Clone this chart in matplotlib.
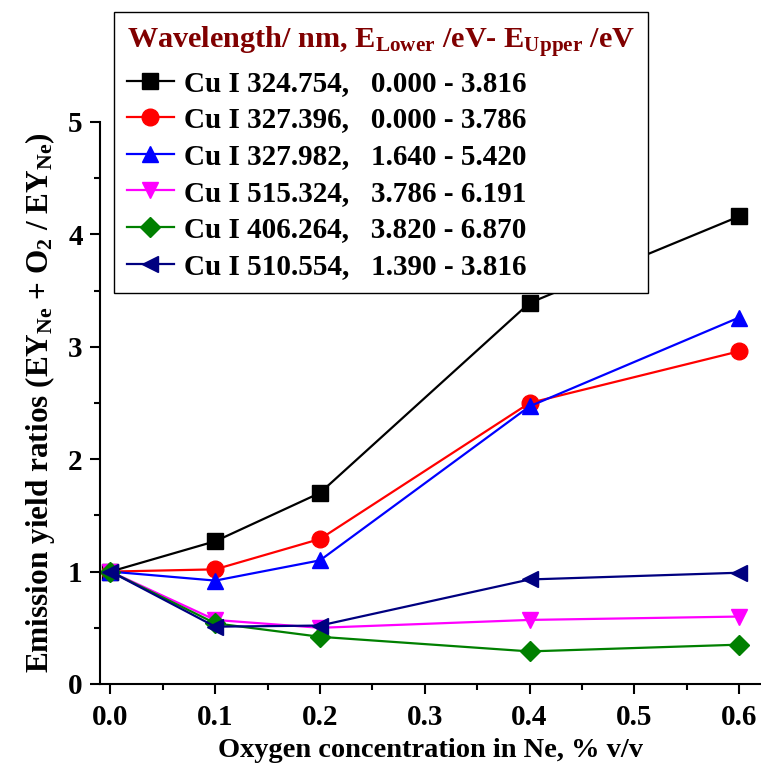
import matplotlib
matplotlib.use("Agg")
import matplotlib.pyplot as plt
from matplotlib.ticker import MultipleLocator

plt.rcParams["font.family"] = ["Liberation Serif", "DejaVu Serif"]
plt.rcParams["font.weight"] = "bold"
plt.rcParams["mathtext.fontset"] = "custom"
plt.rcParams["mathtext.rm"] = "Liberation Serif:bold"
plt.rcParams["mathtext.bf"] = "Liberation Serif:bold"
plt.rcParams["mathtext.it"] = "Liberation Serif:bold:italic"

# data
oxygen = [0.0, 0.1, 0.2, 0.4, 0.6]
cu_324 = [1.00, 1.27, 1.70, 3.39, 4.16]
cu_327_396 = [1.00, 1.02, 1.29, 2.50, 2.96]
cu_327_982 = [1.00, 0.92, 1.10, 2.47, 3.26]
cu_515 = [1.00, 0.57, 0.50, 0.57, 0.60]
cu_406 = [1.00, 0.54, 0.42, 0.29, 0.35]
cu_510 = [1.00, 0.51, 0.52, 0.93, 0.99]

labels = [
    "Cu I 324.754,   0.000 - 3.816",
    "Cu I 327.396,   0.000 - 3.786",
    "Cu I 327.982,   1.640 - 5.420",
    "Cu I 515.324,   3.786 - 6.191",
    "Cu I 406.264,   3.820 - 6.870",
    "Cu I 510.554,   1.390 - 3.816",
]
series = [cu_324, cu_327_396, cu_327_982, cu_515, cu_406, cu_510]
colors = ["black", "red", "blue", "magenta", "green", "navy"]
markers = ["s", "o", "^", "v", "D", "<"]
msizes = [11, 12, 12, 12, 10, 12]

fig = plt.figure(figsize=(7.61, 7.67), dpi=100)
ax = fig.add_axes([100 / 761, 1 - 684 / 767, 660 / 761, (684 - 122) / 767])

for y, lab, c, m, ms in zip(series, labels, colors, markers, msizes):
    ax.plot(oxygen, y, color=c, marker=m, markersize=ms, linewidth=1.6,
            label=lab, clip_on=False)

ax.set_xlim(-0.01, 0.62)
ax.set_ylim(0, 5)
ax.xaxis.set_major_locator(MultipleLocator(0.1))
ax.xaxis.set_minor_locator(MultipleLocator(0.05))
ax.yaxis.set_major_locator(MultipleLocator(1))
ax.yaxis.set_minor_locator(MultipleLocator(0.5))
ax.xaxis.set_major_formatter(plt.FormatStrFormatter("%.1f"))

for side in ["top", "right"]:
    ax.spines[side].set_visible(False)
for side in ["left", "bottom"]:
    ax.spines[side].set_linewidth(1.5)

ax.tick_params(which="major", direction="out", length=7.5, width=1.5,
               labelsize=21)
ax.tick_params(axis="x", which="major", pad=7)
ax.tick_params(axis="y", which="major", pad=5)
ax.tick_params(which="minor", direction="out", length=4.5, width=1.5)
for t in ax.get_xticklabels() + ax.get_yticklabels():
    t.set_fontweight("bold")

ax.set_xlabel("Oxygen concentration in Ne, % v/v", fontsize=20.5,
              fontweight="bold", labelpad=5)
ax.set_ylabel(r"Emission yield ratios (EY$_{\mathrm{Ne}}$ + O$_{2}$ / EY$_{\mathrm{Ne}}$)",
              fontsize=22.5, fontweight="bold", labelpad=8)

leg = ax.legend(loc="upper left", bbox_to_anchor=(114 / 761, 1 - 12 / 767),
                bbox_transform=fig.transFigure, borderaxespad=0,
                prop={"weight": "bold", "size": 21},
                title=r"Wavelength/ nm, E$_{\mathrm{Lower}}$ /eV- E$_{\mathrm{Upper}}$ /eV",
                title_fontproperties={"weight": "bold", "size": 21.8},
                alignment="left", handlelength=1.6, handletextpad=0.35,
                labelspacing=0.33, frameon=True, fancybox=False,
                edgecolor="black", framealpha=1, borderpad=0.45)
leg.get_title().set_color("#800000")
leg.get_frame().set_linewidth(1.0)

fig.savefig("out.png", dpi=100)
